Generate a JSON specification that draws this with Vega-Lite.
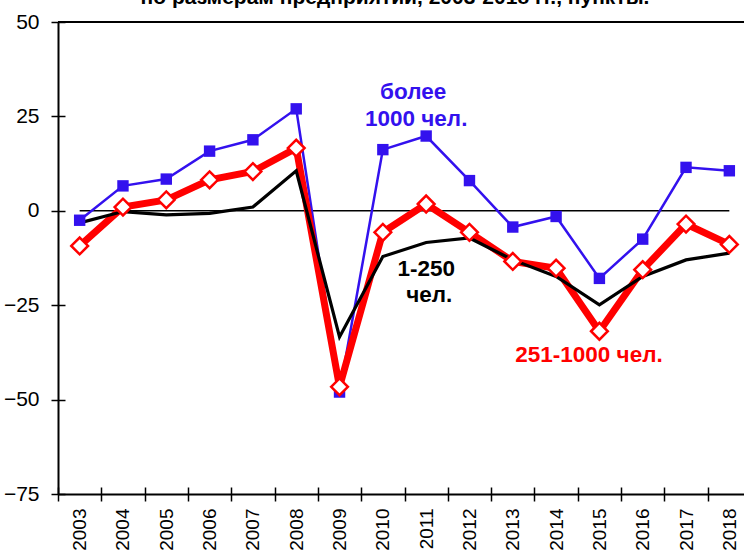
{
  "$schema": "https://vega.github.io/schema/vega-lite/v6.json",
  "autosize": {"type": "none"},
  "width": 686,
  "height": 472,
  "padding": {"left": 58, "top": 22, "right": 0, "bottom": 60},
  "background": "white",
  "config": {"font": "Liberation Sans", "view": {"stroke": null}},
  "title": {"text": "по размерам предприятий, 2003-2018 гг., пункты.", "fontSize": 21, "fontWeight": "bold", "color": "black", "offset": -14, "baseline": "alphabetic", "dx": -6, "anchor": "middle", "font": "Liberation Sans"},
  "datasets": {
    "series": [
      {"year": "2003", "group": "более 1000 чел.", "value": -2.5},
      {"year": "2004", "group": "более 1000 чел.", "value": 6.6},
      {"year": "2005", "group": "более 1000 чел.", "value": 8.4},
      {"year": "2006", "group": "более 1000 чел.", "value": 15.8},
      {"year": "2007", "group": "более 1000 чел.", "value": 18.8},
      {"year": "2008", "group": "более 1000 чел.", "value": 27},
      {"year": "2009", "group": "более 1000 чел.", "value": -48},
      {"year": "2010", "group": "более 1000 чел.", "value": 16.2},
      {"year": "2011", "group": "более 1000 чел.", "value": 19.8},
      {"year": "2012", "group": "более 1000 чел.", "value": 8},
      {"year": "2013", "group": "более 1000 чел.", "value": -4.3},
      {"year": "2014", "group": "более 1000 чел.", "value": -1.5},
      {"year": "2015", "group": "более 1000 чел.", "value": -17.9},
      {"year": "2016", "group": "более 1000 чел.", "value": -7.5},
      {"year": "2017", "group": "более 1000 чел.", "value": 11.5},
      {"year": "2018", "group": "более 1000 чел.", "value": 10.6},
      {"year": "2003", "group": "251-1000 чел.", "value": -9.3},
      {"year": "2004", "group": "251-1000 чел.", "value": 1.0},
      {"year": "2005", "group": "251-1000 чел.", "value": 2.9},
      {"year": "2006", "group": "251-1000 чел.", "value": 8.2},
      {"year": "2007", "group": "251-1000 чел.", "value": 10.4},
      {"year": "2008", "group": "251-1000 чел.", "value": 16.6},
      {"year": "2009", "group": "251-1000 чел.", "value": -46.6},
      {"year": "2010", "group": "251-1000 чел.", "value": -5.7},
      {"year": "2011", "group": "251-1000 чел.", "value": 1.8},
      {"year": "2012", "group": "251-1000 чел.", "value": -5.7},
      {"year": "2013", "group": "251-1000 чел.", "value": -13.4},
      {"year": "2014", "group": "251-1000 чел.", "value": -15.2},
      {"year": "2015", "group": "251-1000 чел.", "value": -31.9},
      {"year": "2016", "group": "251-1000 чел.", "value": -15.6},
      {"year": "2017", "group": "251-1000 чел.", "value": -3.5},
      {"year": "2018", "group": "251-1000 чел.", "value": -8.9},
      {"year": "2003", "group": "1-250 чел.", "value": -3.2},
      {"year": "2004", "group": "1-250 чел.", "value": -0.2},
      {"year": "2005", "group": "1-250 чел.", "value": -1.1},
      {"year": "2006", "group": "1-250 чел.", "value": -0.7},
      {"year": "2007", "group": "1-250 чел.", "value": 1.0},
      {"year": "2008", "group": "1-250 чел.", "value": 10.6},
      {"year": "2009", "group": "1-250 чел.", "value": -33.4},
      {"year": "2010", "group": "1-250 чел.", "value": -12.1},
      {"year": "2011", "group": "1-250 чел.", "value": -8.4},
      {"year": "2012", "group": "1-250 чел.", "value": -7.2},
      {"year": "2013", "group": "1-250 чел.", "value": -13},
      {"year": "2014", "group": "1-250 чел.", "value": -17.4},
      {"year": "2015", "group": "1-250 чел.", "value": -24.9},
      {"year": "2016", "group": "1-250 чел.", "value": -17.4},
      {"year": "2017", "group": "1-250 чел.", "value": -13},
      {"year": "2018", "group": "1-250 чел.", "value": -11.2}
    ],
    "labels": [
      {"text": "более", "x": 2010.70, "y": 31.5, "group": "более 1000 чел."},
      {"text": "1000 чел.", "x": 2010.77, "y": 24.3, "group": "более 1000 чел."},
      {"text": "1-250", "x": 2011.0, "y": -15.4, "group": "1-250 чел."},
      {"text": "чел.", "x": 2011.07, "y": -22.3, "group": "1-250 чел."},
      {"text": "251-1000 чел.", "x": 2014.76, "y": -38.2, "group": "251-1000 чел."}
    ],
    "guides": [
      {"kind": "zero", "x": 2003, "x2": 2018, "y": 0},
      {"kind": "top", "x": 2002.5, "x2": 2018.5, "y": 50}
    ]
  },
  "layer": [
    {
      "data": {"name": "guides"},
      "mark": {"type": "rule", "color": "black"},
      "encoding": {
        "x": {"field": "x", "type": "quantitative", "scale": {"domain": [2002.5, 2018.5], "range": [0, 693], "nice": false, "zero": false},
          "axis": {"orient": "bottom", "values": [2002.5, 2003.5, 2004.5, 2005.5, 2006.5, 2007.5, 2008.5, 2009.5, 2010.5, 2011.5, 2012.5, 2013.5, 2014.5, 2015.5, 2016.5, 2017.5, 2018.5], "labels": false, "domain": false, "grid": false, "ticks": true, "tickSize": -7, "tickColor": "black", "tickWidth": 1.5, "title": null}},
        "x2": {"field": "x2"},
        "y": {"field": "y", "type": "quantitative", "scale": {"domain": [-75, 50], "nice": false, "zero": false},
          "axis": {"orient": "left", "values": [-75, -50, -25, 0, 25, 50], "labels": false, "domain": false, "grid": false, "ticks": true, "tickSize": -7, "tickColor": "black", "tickWidth": 1.5, "title": null}},
        "strokeWidth": {"condition": {"test": "datum.kind === 'top'", "value": 2}, "value": 1.5}
      }
    },
    {
      "data": {"name": "series"},
      "layer": [
        {
          "transform": [{"filter": "datum.group === 'более 1000 чел.'"}],
          "mark": {"type": "line", "color": "#3311EE", "strokeWidth": 2.5}
        },
        {
          "transform": [{"filter": "datum.group === '251-1000 чел.'"}],
          "mark": {"type": "line", "color": "#FF0000", "strokeWidth": 7, "strokeJoin": "miter"}
        },
        {
          "transform": [{"filter": "datum.group === '1-250 чел.'"}],
          "mark": {"type": "line", "color": "#000000", "strokeWidth": 3.2}
        },
        {
          "transform": [{"filter": "datum.group === 'более 1000 чел.'"}],
          "mark": {"type": "point", "shape": "square", "filled": true, "color": "#3311EE", "size": 130, "opacity": 1}
        },
        {
          "transform": [{"filter": "datum.group === '251-1000 чел.'"}],
          "mark": {"type": "point", "shape": "diamond", "filled": false, "fill": "white", "fillOpacity": 1, "stroke": "#FF0000", "strokeWidth": 2.5, "size": 280, "opacity": 1}
        }
      ],
      "encoding": {
        "x": {"field": "year", "type": "ordinal", "bandPosition": 0.5,
          "scale": {"type": "band", "paddingInner": 0, "paddingOuter": 0, "range": [0, 693]},
          "axis": {"orient": "bottom", "labelAngle": -90, "labelFontSize": 19, "labelColor": "black", "labelPadding": 7, "tickBand": "extent", "tickSize": 7, "tickColor": "black", "tickWidth": 1.5, "domainColor": "black", "domainWidth": 2, "title": null, "grid": false}},
        "y": {"field": "value", "type": "quantitative",
          "axis": {"orient": "left", "values": [-75, -50, -25, 0, 25, 50], "labelFontSize": 21, "labelColor": "black", "labelPadding": 12, "tickSize": 7, "tickColor": "black", "tickWidth": 1.5, "domainColor": "black", "domainWidth": 2, "title": null, "grid": false}}
      }
    },
    {
      "data": {"name": "labels"},
      "mark": {"type": "text", "fontWeight": "bold", "fontSize": 22.5, "align": "center", "baseline": "middle", "font": "Liberation Sans"},
      "encoding": {
        "x": {"field": "x", "type": "quantitative", "scale": {"domain": [2002.5, 2018.5], "range": [0, 693], "nice": false, "zero": false}, "axis": null},
        "y": {"field": "y", "type": "quantitative", "axis": null},
        "text": {"field": "text"},
        "color": {"field": "group", "type": "nominal", "scale": {"domain": ["более 1000 чел.", "251-1000 чел.", "1-250 чел."], "range": ["#3311EE", "#FF0000", "#000000"]}, "legend": null}
      }
    }
  ],
  "resolve": {"scale": {"x": "independent"}, "axis": {"y": "independent", "x": "independent"}}
}
